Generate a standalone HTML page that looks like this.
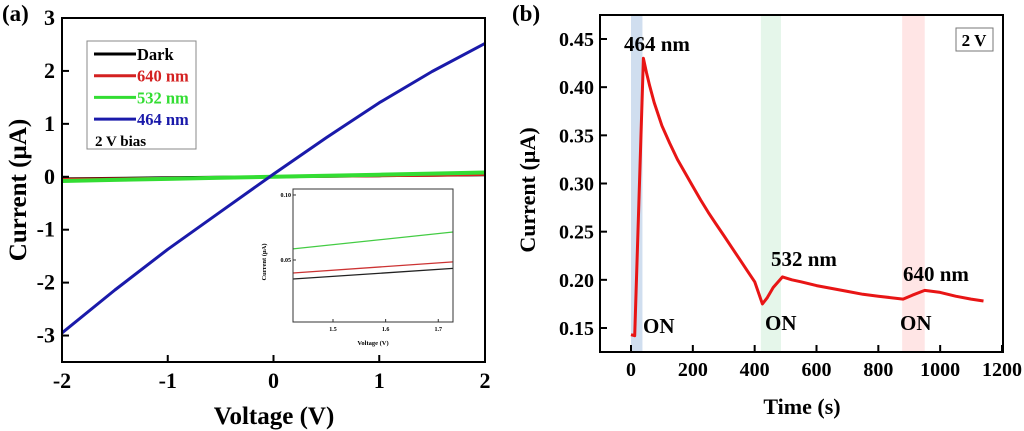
<!DOCTYPE html>
<html><head><meta charset="utf-8">
<style>
html,body{margin:0;padding:0;background:#fff;}
svg{display:block;font-family:"Liberation Serif",serif;font-weight:bold;}
</style></head>
<body>
<svg id="fig" width="1024" height="431" viewBox="0 0 1024 431"></svg>
<script>
// Panel (a) data
const ivVoltage = [-2,-1.5,-1,-0.5,0,0.5,1,1.5,2];
const iv464 = [-2.95,-2.14,-1.37,-0.66,0.05,0.74,1.40,1.99,2.52];
const iv532 = [-0.08,-0.06,-0.04,-0.02,0.0,0.02,0.04,0.06,0.08];
const iv640 = [-0.05,-0.04,-0.03,-0.015,0.0,0.01,0.02,0.03,0.045];
const ivDark = [-0.04,-0.03,-0.02,-0.01,0.0,0.01,0.02,0.03,0.04];
const aXTicks = [-2,-1,0,1,2];
const aYTicks = [-3,-2,-1,0,1,2,3];
// inset data
const insetV = [1.424,1.728];
const inset532 = [0.0585,0.0715];
const inset640 = [0.0400,0.0485];
const insetDark = [0.0354,0.0435];
const insetXTicks = [1.5,1.6,1.7];
const insetYTicks = [0.05,0.10];
const insetYLabels = ["0.05","0.10"];
// Panel (b) data
const tTime = [0,12,40,50,60,75,100,125,150,175,200,225,250,275,300,325,350,375,400,425,440,460,490,520,550,600,650,700,750,800,880,910,950,1000,1050,1100,1140];
const tCurrent = [0.143,0.142,0.430,0.415,0.402,0.384,0.360,0.342,0.325,0.311,0.297,0.283,0.270,0.258,0.246,0.234,0.222,0.210,0.198,0.175,0.181,0.192,0.203,0.200,0.198,0.194,0.191,0.188,0.185,0.183,0.180,0.184,0.189,0.187,0.183,0.180,0.178];
const bXTicks = [0,200,400,600,800,1000,1200];
const bYTicks = [0.15,0.20,0.25,0.30,0.35,0.40,0.45];
const bYLabels = ["0.15","0.20","0.25","0.30","0.35","0.40","0.45"];
const bands = [[0,37],[420,485],[877,950]];
const bandColors = ["rgba(120,160,210,0.35)","rgba(150,220,170,0.25)","rgba(255,170,170,0.3)"];

const NS="http://www.w3.org/2000/svg";
const svg=document.getElementById('fig');
function mk(tag,attrs,parent){const e=document.createElementNS(NS,tag);for(const k in attrs)e.setAttribute(k,attrs[k]);(parent||svg).appendChild(e);return e;}
function txt(s,attrs,parent){const e=mk('text',attrs,parent);e.textContent=s;return e;}
function lin(d0,d1,r0,r1){return v=>r0+(v-d0)/(d1-d0)*(r1-r0);}
function pathOf(xs,ys,fx,fy){return xs.map((x,i)=>(i?'L':'M')+fx(x).toFixed(1)+','+fy(ys[i]).toFixed(1)).join('');}

// ---- Panel a ----
const ax=lin(-2,2,62,485), ay=lin(3,-3.5,18,362);
let e;
e=txt('(a)',{x:2,y:21,'font-size':23});

const seriesA=[[ivDark,'#000'],[iv640,'#e02020'],[iv532,'#33dd33'],[iv464,'#1a1aaa']];
seriesA.forEach(([ys,c],i)=>{e=mk('path',{d:pathOf(ivVoltage,ys,ax,ay),stroke:c,'stroke-width':i==2?4:3,fill:'none','stroke-linejoin':'round'});
});
e=mk('rect',{x:62,y:18,width:423,height:344,fill:'none',stroke:'#000','stroke-width':2});

aXTicks.forEach(v=>{mk('line',{x1:ax(v),x2:ax(v),y1:362,y2:355,stroke:'#000','stroke-width':2});
e=txt(v<0?'-'+Math.abs(v):String(v),{x:ax(v),y:388,'font-size':22,'text-anchor':'middle'});
});
aYTicks.forEach(v=>{mk('line',{x1:62,x2:69,y1:ay(v),y2:ay(v),stroke:'#000','stroke-width':2});
e=txt(v<0?'-'+Math.abs(v):String(v),{x:55,y:ay(v)+7,'font-size':22,'text-anchor':'end'});
});
e=txt('Voltage (V)',{x:274,y:424,'font-size':25,'text-anchor':'middle'});

e=txt('Current (\u00b5A)',{x:0,y:0,'font-size':25,'text-anchor':'middle',transform:'translate(26,190) rotate(-90)'});

// legend
const lg=mk('g',{});
mk('rect',{x:87,y:41,width:109,height:108,fill:'#fff',stroke:'#888','stroke-width':1},lg);
[['Dark','#000'],['640 nm','#d42020'],['532 nm','#33dd33'],['464 nm','#1a1aaa']].forEach(([l,c],i)=>{
const y=54+i*21.7;mk('line',{x1:94,x2:136,y1:y,y2:y,stroke:c,'stroke-width':3},lg);
e=txt(l,{x:137,y:y+6,'font-size':16.5,fill:c},lg);});
e=txt('2 V bias',{x:95,y:146,'font-size':15},lg);
// inset
const ix=lin(1.424,1.728,293,453), iy=lin(0.1046,0.0023,189,322);
const ig=mk('g',{});
mk('rect',{x:293,y:189,width:160,height:133,fill:'#fff',stroke:'none'},ig);
[[inset532,'#44cc44'],[inset640,'#cc3333'],[insetDark,'#222']].forEach(([ys,c])=>{
e=mk('path',{d:pathOf(insetV,ys,ix,iy),stroke:c,'stroke-width':1.3,fill:'none'},ig);});
mk('rect',{x:293,y:189,width:160,height:133,fill:'none',stroke:'#333','stroke-width':1},ig);
insetXTicks.forEach(v=>{mk('line',{x1:ix(v),x2:ix(v),y1:322,y2:319,stroke:'#333'},ig);
e=txt(v.toFixed(1),{x:ix(v),y:331,'font-size':6,'text-anchor':'middle'},ig);});
insetYTicks.forEach((v,i)=>{mk('line',{x1:293,x2:296,y1:iy(v),y2:iy(v),stroke:'#333'},ig);
e=txt(insetYLabels[i],{x:291,y:iy(v)+2,'font-size':6,'text-anchor':'end'},ig);});
e=txt('Voltage (V)',{x:373,y:345,'font-size':6.5,'text-anchor':'middle'},ig);
e=txt('Current (\u00b5A)',{x:0,y:0,'font-size':6.5,'text-anchor':'middle',transform:'translate(266,262) rotate(-90)'},ig);

// ---- Panel b ----
const bx=lin(0,1200,631,1002), by=lin(0.45,0.15,39,328);
e=txt('(b)',{x:512,y:21,'font-size':23});
bands.forEach((b,i)=>{e=mk('rect',{x:bx(b[0]),y:15,width:bx(b[1])-bx(b[0]),height:337,fill:bandColors[i]});
});
e=mk('path',{d:pathOf(tTime,tCurrent,bx,by),stroke:'#e81515','stroke-width':3,fill:'none','stroke-linejoin':'round'});

e=mk('rect',{x:600,y:15,width:403,height:337,fill:'none',stroke:'#000','stroke-width':2});

bXTicks.forEach(v=>{mk('line',{x1:bx(v),x2:bx(v),y1:352,y2:345,stroke:'#000','stroke-width':2});
e=txt(String(v),{x:bx(v),y:376,'font-size':20,'text-anchor':'middle'});});
bYTicks.forEach((v,i)=>{mk('line',{x1:600,x2:607,y1:by(v),y2:by(v),stroke:'#000','stroke-width':2});
e=txt(bYLabels[i],{x:594,y:by(v)+7,'font-size':20,'text-anchor':'end'});});
e=txt('Time (s)',{x:802,y:414,'font-size':22,'text-anchor':'middle'});
e=txt('Current (\u00b5A)',{x:0,y:0,'font-size':22,'text-anchor':'middle',transform:'translate(535,190) rotate(-90)'});
[['464 nm',624,51],['532 nm',771,266],['640 nm',903,281],['ON',643,333],['ON',765,330],['ON',900,330]].forEach(([s,x,y])=>{
e=txt(s,{x:x,y:y,'font-size':21});});
e=mk('rect',{x:956,y:28,width:37,height:23,fill:'#fff',stroke:'#777'});
e=txt('2 V',{x:974,y:46,'font-size':17,'text-anchor':'middle'});
</script>
</body></html>
